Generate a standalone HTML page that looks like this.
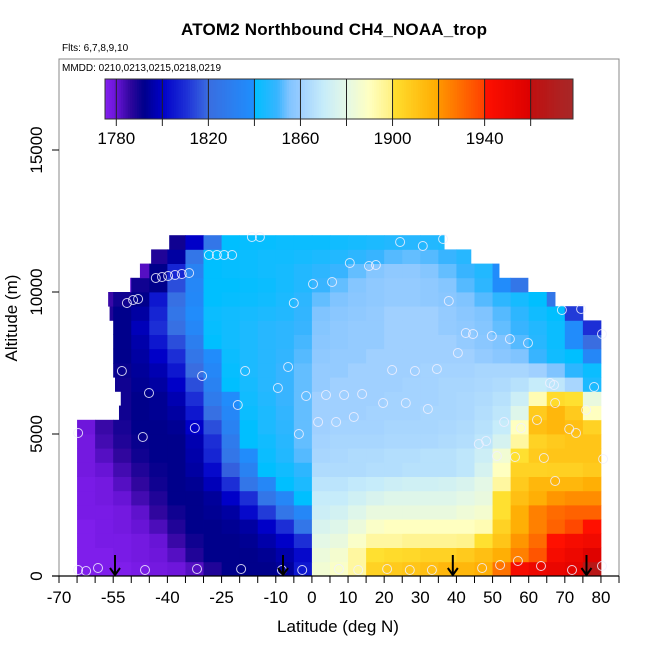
<!DOCTYPE html>
<html><head><meta charset="utf-8"><style>
html,body{margin:0;padding:0;background:#fff;}
svg text{font-family:"Liberation Sans",Arial,sans-serif;}
</style></head><body>
<svg id="chart" width="650" height="650" viewBox="0 0 650 650" xmlns="http://www.w3.org/2000/svg">
<rect x="0" y="0" width="650" height="650" fill="#fff"/>
<text x="334" y="35" text-anchor="middle" font-size="17" font-weight="bold" textLength="306">ATOM2 Northbound CH4_NOAA_trop</text>
<text x="62" y="51" font-size="10">Flts: 6,7,8,9,10</text>
<text x="62" y="71" font-size="10">MMDD: 0210,0213,0215,0218,0219</text>
<g id="heat"></g>
<g id="pts"></g>
<g id="arrows"></g>
<rect x="59" y="59" width="560" height="517" fill="none" stroke="#888" stroke-width="1"/>
<g id="cbar"></g>
<g id="xaxis"></g>
<g id="yaxis"></g>
<text x="338" y="632" text-anchor="middle" font-size="17">Latitude (deg N)</text>
<text transform="translate(17,318) rotate(-90)" text-anchor="middle" font-size="17">Altitude (m)</text>
</svg>
<script>
const colLats=[-67.5,-62.5,-57.5,-52.5,-47.5,-42.5,-37.5,-32.5,-27.5,-22.5,-17.5,-12.5,-7.5,-2.5,2.5,7.5,12.5,17.5,22.5,27.5,32.5,37.5,42.5,47.5,52.5,57.5,62.5,67.5,72.5,77.5];
const rowAlts=[0,500,1000,1500,2000,2500,3000,3500,4000,4500,5000,5500,6000,6500,7000,7500,8000,8500,9000,9500,10000,10500,11000,11500];
const rowStart=[-65,-65,-65,-65,-65,-65,-65,-65,-65,-65,-65,-53.4,-52.9,-54.5,-55,-55,-55,-55,-56,-56.4,-50.3,-47.6,-44.5,-39.5];
const rowEnd=[80.5,80.5,80.5,80.5,80.5,80.5,80.5,80.5,81,80.5,80.5,80.5,80.5,80.5,80.5,80.5,80.5,80.5,75.3,67.3,59.8,51.8,44,36.6];
const ch4=[
[1776,1776,1776,1776,1777,1778,1779,1782,1788,1792,1792,1792,1794,1805,1885,1888,1895,1905,1908,1910,1912,1915,1915,1918,1928,1945,1950,1952,1955,1965],
[1776,1776,1776,1777,1778,1779,1782,1788,1792,1792,1792,1793,1796,1802,1883,1886,1895,1900,1902,1903,1905,1905,1908,1912,1918,1925,1935,1945,1950,1958],
[1776,1776,1777,1777,1778,1780,1785,1790,1792,1792,1793,1796,1800,1810,1880,1882,1888,1895,1895,1897,1897,1897,1898,1900,1910,1920,1930,1940,1945,1948],
[1776,1776,1777,1778,1780,1783,1788,1792,1792,1793,1795,1800,1810,1825,1876,1878,1883,1888,1890,1890,1890,1890,1890,1892,1905,1918,1925,1932,1938,1940],
[1776,1777,1777,1778,1781,1786,1790,1792,1793,1795,1802,1812,1825,1835,1872,1874,1878,1882,1882,1882,1882,1882,1884,1886,1900,1918,1925,1930,1932,1932],
[1776,1777,1778,1780,1784,1788,1792,1792,1794,1800,1810,1825,1835,1840,1870,1870,1873,1876,1878,1878,1878,1878,1880,1882,1900,1912,1918,1920,1922,1922],
[1776,1777,1778,1782,1786,1790,1792,1793,1798,1810,1825,1835,1840,1845,1867,1867,1869,1870,1872,1873,1873,1874,1876,1880,1895,1908,1915,1915,1915,1918],
[1777,1778,1780,1784,1788,1791,1792,1795,1802,1818,1832,1840,1843,1848,1864,1864,1864,1865,1865,1866,1866,1866,1868,1875,1890,1905,1905,1906,1906,1908],
[1777,1778,1782,1786,1790,1792,1792,1796,1808,1825,1838,1842,1846,1852,1862,1863,1864,1864,1865,1865,1866,1866,1868,1872,1885,1900,1908,1910,1910,1910],
[1777,1778,1784,1788,1791,1792,1792,1797,1810,1828,1840,1843,1847,1853,1861,1862,1862,1862,1863,1863,1863,1864,1865,1868,1875,1895,1905,1908,1910,1910],
[1777,1779,1785,1789,1792,1792,1793,1800,1815,1832,1840,1845,1848,1853,1860,1861,1861,1861,1862,1862,1862,1863,1864,1866,1870,1890,1912,1915,1912,1905],
[null,null,1786,1790,1792,1793,1795,1805,1822,1835,1842,1845,1849,1853,1860,1860,1860,1861,1861,1861,1862,1862,1863,1865,1868,1878,1908,1915,1908,1890],
[null,null,1786,1790,1792,1793,1797,1810,1828,1838,1843,1846,1850,1853,1860,1860,1860,1860,1861,1861,1861,1862,1863,1864,1866,1872,1892,1902,1900,1882],
[null,null,1786,1790,1793,1795,1800,1815,1832,1840,1844,1847,1850,1853,1859,1860,1860,1860,1860,1861,1861,1862,1862,1863,1864,1866,1870,1868,1862,1845],
[null,null,1786,1791,1794,1797,1805,1820,1835,1841,1845,1847,1850,1853,1859,1859,1860,1860,1860,1860,1861,1861,1861,1862,1862,1862,1860,1855,1848,1842],
[null,null,1787,1792,1795,1800,1810,1825,1838,1842,1845,1847,1849,1852,1858,1859,1859,1860,1860,1860,1860,1860,1860,1859,1857,1855,1850,1843,1840,1835],
[null,null,1787,1792,1796,1805,1815,1830,1840,1843,1845,1847,1848,1851,1857,1858,1859,1859,1860,1860,1860,1860,1859,1857,1855,1852,1847,1842,1838,1820],
[null,null,1788,1792,1798,1810,1822,1835,1841,1843,1845,1847,1848,1850,1856,1858,1859,1859,1860,1860,1860,1859,1858,1856,1853,1850,1846,1842,1838,1810],
[null,null,1788,1792,1795,1808,1825,1838,1842,1843,1844,1845,1846,1849,1855,1857,1858,1859,1860,1860,1860,1859,1857,1855,1852,1848,1843,1840,1812,null],
[null,null,1785,1790,1792,1805,1822,1836,1840,1841,1842,1843,1845,1848,1853,1855,1857,1858,1859,1859,1858,1857,1855,1852,1848,1844,1840,1825,null,null],
[null,null,null,1780,1790,1792,1815,1835,1840,1840,1841,1842,1844,1846,1850,1853,1856,1858,1859,1859,1858,1856,1852,1848,1838,1825,null,null,null,null],
[null,null,null,null,1782,1792,1808,1832,1840,1841,1842,1843,1844,1846,1848,1850,1853,1856,1858,1858,1856,1853,1850,1846,1838,null,null,null,null,null],
[null,null,null,null,null,1788,1795,1825,1840,1841,1842,1843,1843,1844,1845,1846,1848,1850,1852,1853,1852,1850,1847,null,null,null,null,null,null,null],
[null,null,null,null,null,null,1790,1800,1825,1840,1841,1841,1842,1842,1842,1843,1844,1845,1846,1847,1846,1845,null,null,null,null,null,null,null,null]
];
const ptLat=[-64.7,-62.5,-59.2,-46.2,-31.8,-19.6,-8.3,-2.7,7.5,12.8,20.8,27.1,33.2,47.1,52.1,57.0,63.4,72.0,80.3,
-64.7,-52.6,-46.8,-45.1,-32.4,-30.4,-18.5,-20.5,-6.6,-9.4,-1.6,3.9,1.7,6.7,-3.6,-5.0,0.3,5.6,-43.2,-41.5,-39.8,-37.9,-36.0,-34.0,-28.5,-26.3,-24.3,-22.1,-16.6,-14.4,-51.2,-49.5,-48.1,
24.4,30.7,36.3,10.5,15.8,17.7,37.9,69.2,74.5,80.3,42.6,44.6,49.8,54.8,59.8,40.4,22.2,28.5,34.6,65.9,67.0,78.1,8.9,13.9,19.7,26.0,32.1,67.3,75.9,11.6,53.2,57.9,62.3,71.2,73.1,46.2,48.2,51.2,56.2,64.2,80.6,67.3];
const ptAlt=[211,176,282,211,246,246,211,211,246,211,246,211,211,282,387,528,352,211,352,
5035,7218,4894,6444,5211,7042,7218,6021,7359,6620,6338,6373,5423,5423,5000,9613,10282,10352,10493,10528,10563,10599,10634,10669,11303,11303,11303,11303,11937,11937,9613,9718,9754,
11761,11620,11866,11021,10915,10951,9683,9366,9401,8521,8556,8521,8451,8345,8204,7852,7254,7218,7289,6796,6725,6655,6373,6408,6092,6092,5880,6092,5845,5599,5423,5211,5493,5176,5035,4648,4754,4225,4190,4155,4120,3345];
const arrowLats=[-54.5,-8,39,76];
const xTicks=[-70,-65,-60,-55,-50,-45,-40,-35,-30,-25,-20,-15,-10,-5,0,5,10,15,20,25,30,35,40,45,50,55,60,65,70,75,80,85];
const xLabels=[-70,-55,-40,-25,-10,0,10,20,30,40,50,60,70,80];
const yTicks=[0,5000,10000,15000];
const cbTicks=[1780,1800,1820,1840,1860,1880,1900,1920,1940,1960];
const cbLabels=[1780,1820,1860,1900,1940];

const NS="http://www.w3.org/2000/svg";
function X(lat){return 59+(lat+70)*3.613;}
function Y(alt){return 576-alt*0.0284;}
function CB(v){return 116.3+(v-1780)*2.302;}
const stops=[[1775,"#8520f0"],[1780,"#6814d6"],[1786,"#30069e"],[1792,"#00008b"],[1800,"#0000c8"],[1810,"#1c2ed6"],[1820,"#3a6de0"],[1839.9,"#1e8ffe"],[1840,"#00bfff"],[1850,"#38b4ff"],[1855,"#80c4ff"],[1859.9,"#98ccff"],[1860,"#a0d0ff"],[1870,"#c6ecfa"],[1880,"#e4f8e6"],[1890,"#ffffc0"],[1899.9,"#fff080"],[1900,"#ffe030"],[1919.9,"#ffaa00"],[1920,"#ff9600"],[1939.9,"#ff4000"],[1940,"#ff1000"],[1959.9,"#dc0000"],[1960,"#c01010"],[1980,"#a52a2a"]];
function hex(c){return [parseInt(c.slice(1,3),16),parseInt(c.slice(3,5),16),parseInt(c.slice(5,7),16)];}
function col(v){
  if(v<=stops[0][0])return stops[0][1];
  for(let i=1;i<stops.length;i++){
    if(v<=stops[i][0]){
      const a=hex(stops[i-1][1]),b=hex(stops[i][1]);
      const t=(v-stops[i-1][0])/(stops[i][0]-stops[i-1][0]);
      return "rgb("+a.map((x,k)=>Math.round(x+(b[k]-x)*t)).join(",")+")";
    }
  }
  return stops[stops.length-1][1];
}
function mk(tag,attrs,parent){const e=document.createElementNS(NS,tag);for(const k in attrs)e.setAttribute(k,attrs[k]);parent.appendChild(e);return e;}

const heat=document.getElementById("heat");
for(let r=0;r<rowAlts.length;r++){
  for(let c=0;c<colLats.length;c++){
    const v=ch4[r][c];
    if(v===null)continue;
    const l=Math.max(colLats[c]-2.5,rowStart[r]),rr=Math.min(colLats[c]+2.5,rowEnd[r]);
    if(rr<=l)continue;
    const y1=Y(rowAlts[r]+500),y0=Y(rowAlts[r]);
    const e=mk("rect",{x:X(l).toFixed(2),y:y1.toFixed(2),width:(X(rr)-X(l)+0.4).toFixed(2),height:(y0-y1+0.4).toFixed(2),fill:col(v)},heat);
    
    
  }
}
const pts=document.getElementById("pts");
for(let i=0;i<ptLat.length;i++){
  const e=mk("circle",{cx:X(ptLat[i]).toFixed(1),cy:Y(ptAlt[i]).toFixed(1),r:4.5,fill:"none",stroke:"#f0f0ff","stroke-opacity":0.85,"stroke-width":1},pts);
  
  
}
const ar=document.getElementById("arrows");
for(const a of arrowLats){
  const x=X(a);
  const g=mk("g",{},ar);
  
  
  mk("line",{x1:x,y1:555,x2:x,y2:575,stroke:"#000","stroke-width":2},g);
  mk("polyline",{points:(x-5)+",568 "+x+",575 "+(x+5)+",568",fill:"none",stroke:"#000","stroke-width":2},g);
}
const cb=document.getElementById("cbar");
for(let v=1775;v<1978;v+=1){
  const e=mk("rect",{x:CB(v).toFixed(2),y:79,width:2.7,height:40,fill:col(v+0.5)},cb);
  
  
}
mk("rect",{x:105,y:79,width:468,height:40,fill:"none",stroke:"#333","stroke-width":1},cb);
for(const t of cbTicks){
  const e=mk("line",{x1:CB(t),y1:79,x2:CB(t),y2:126,stroke:"#222","stroke-width":1},cb);
  
  
}
for(const t of cbLabels){
  const e=mk("text",{x:CB(t),y:144,"text-anchor":"middle","font-size":17},cb);
  e.textContent=t;
  
  
}
const xa=document.getElementById("xaxis");
mk("line",{x1:52,y1:576,x2:619,y2:576,stroke:"#000","stroke-width":1.2},xa);
for(const t of xTicks){
  const e=mk("line",{x1:X(t),y1:576,x2:X(t),y2:583,stroke:"#000","stroke-width":1},xa);
  
  
}
for(const t of xLabels){
  const e=mk("text",{x:X(t),y:603,"text-anchor":"middle","font-size":17},xa);
  e.textContent=t;
  
  
}
const ya=document.getElementById("yaxis");
for(const t of yTicks){
  const e=mk("line",{x1:52,y1:Y(t),x2:59,y2:Y(t),stroke:"#000","stroke-width":1},ya);
  
  
  const l=mk("text",{transform:"translate(42,"+Y(t)+") rotate(-90)","text-anchor":"middle","font-size":17},ya);
  l.textContent=t;
  
  
}
</script>
</body></html>
